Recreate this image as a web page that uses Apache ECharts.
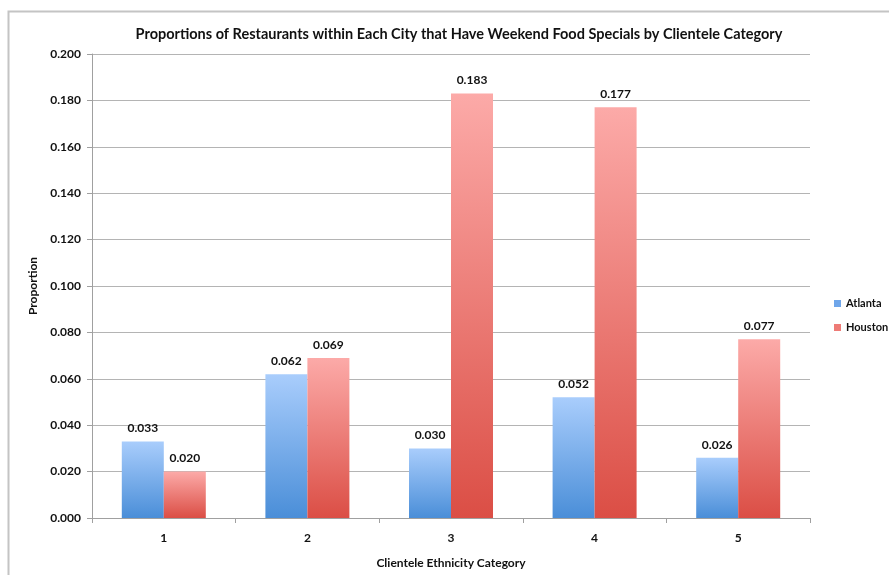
<!DOCTYPE html>
<html>
<head>
<meta charset="utf-8">
<script src="https://cdn.jsdelivr.net/npm/echarts@6/dist/echarts.min.js"></script>
<style>
  html, body { margin: 0; padding: 0; background: #fff; }
  #chart { width: 889px; height: 575px; }
</style>
</head>
<body>
<div id="chart"></div>
<script>
// Clientele ethnicity categories and the share of restaurants with weekend specials
const categories = ['1', '2', '3', '4', '5'];
const atlanta = [0.033, 0.062, 0.030, 0.052, 0.026];
const houston = [0.020, 0.069, 0.183, 0.177, 0.077];

const FONT = 'Lato, "Open Sans", sans-serif';

function grad(top, bottom) {
  return new echarts.graphic.LinearGradient(0, 0, 0, 1, [
    { offset: 0, color: top },
    { offset: 1, color: bottom }
  ]);
}

const labelStyle = {
  show: true,
  position: 'top',
  distance: 7,
  formatter: p => p.value.toFixed(3),
  color: '#111',
  fontFamily: FONT,
  fontWeight: 'bold',
  fontSize: 12
};

const chart = echarts.init(document.getElementById('chart'), null, { renderer: 'canvas' });
chart.setOption({
  animation: false,
  backgroundColor: '#fff',
  graphic: [{
    type: 'polyline',
    shape: { points: [[8.5, 580], [8.5, 11.5], [895, 11.5]] },
    style: { stroke: '#c4c4c4', lineWidth: 2, fill: null },
    silent: true
  }],
  title: {
    text: 'Proportions of Restaurants within Each City that Have Weekend Food Specials by Clientele Category',
    left: 454,
    textAlign: 'center',
    top: 22,
    textStyle: { fontFamily: FONT, fontWeight: 'bold', fontSize: 14.5, color: '#111' }
  },
  legend: {
    orient: 'vertical',
    left: 829,
    top: 293,
    itemWidth: 7,
    itemHeight: 7,
    itemGap: 13,
    icon: 'rect',
    textStyle: { fontFamily: FONT, fontWeight: 'bold', fontSize: 11, color: '#111' },
    data: [
      { name: 'Atlanta', itemStyle: { color: '#6fa6ea' } },
      { name: 'Houston', itemStyle: { color: '#ee7b76' } }
    ]
  },
  grid: { left: 92, right: 79, top: 54, bottom: 57, outerBoundsMode: 'none' },
  xAxis: {
    type: 'category',
    data: categories,
    name: 'Clientele Ethnicity Category',
    nameLocation: 'middle',
    nameGap: 39,
    nameTextStyle: { fontFamily: FONT, fontWeight: 'bold', fontSize: 12, color: '#111' },
    axisLine: { lineStyle: { color: '#a0a0a0', width: 1 } },
    axisTick: { show: true, alignWithLabel: false, length: 5, lineStyle: { color: '#a0a0a0' } },
    axisLabel: { margin: 14, fontFamily: FONT, fontWeight: 'bold', fontSize: 12, color: '#111' }
  },
  yAxis: {
    type: 'value',
    min: 0,
    max: 0.2,
    interval: 0.02,
    name: 'Proportion',
    nameLocation: 'middle',
    nameRotate: 90,
    nameGap: 51,
    nameTextStyle: { fontFamily: FONT, fontWeight: 'bold', fontSize: 12, color: '#111' },
    axisLine: { show: true, lineStyle: { color: '#a0a0a0', width: 1 } },
    axisTick: { show: true, length: 5, lineStyle: { color: '#a0a0a0' } },
    axisLabel: {
      margin: 11,
      formatter: v => v.toFixed(3),
      fontFamily: FONT, fontWeight: 'bold', fontSize: 12, color: '#111'
    },
    splitLine: { lineStyle: { color: '#b4b4b4', width: 1 } }
  },
  series: [
    {
      name: 'Atlanta',
      type: 'bar',
      data: atlanta,
      barWidth: 42,
      barGap: '0%',
      itemStyle: { color: grad('#a9cdfc', '#4a8ed8') },
      label: labelStyle
    },
    {
      name: 'Houston',
      type: 'bar',
      data: houston,
      barWidth: 42,
      barGap: '0%',
      itemStyle: { color: grad('#fcaaa8', '#db4e45') },
      label: labelStyle
    }
  ]
});
</script>
</body>
</html>
